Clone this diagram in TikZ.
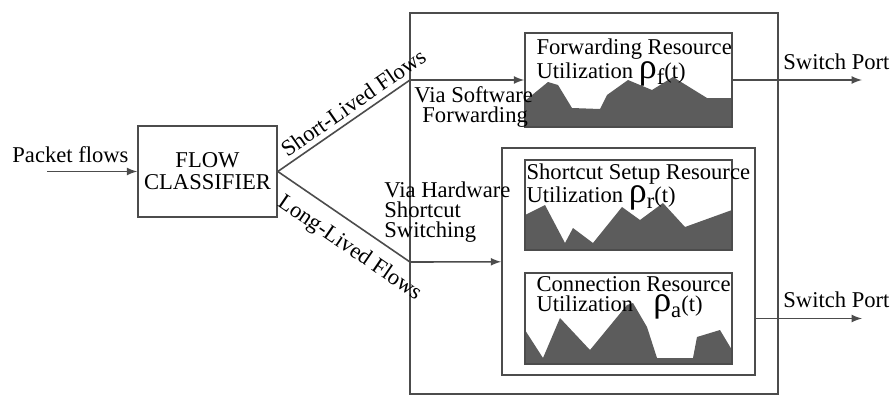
\documentclass[tikz,border=0pt]{standalone}
\usepackage{fontspec}
\setmainfont{Liberation Serif}
\usepackage{tikz}

\tikzset{
	blk/.style={draw=black!70, line width=0.8pt, inner sep=0pt},
	lbl/.style={inner sep=0pt, align=left},
	mount/.style={fill=black!64},
	flow/.style={draw=black!70, line width=0.8pt}
}
\newcommand{\rhosub}[1]{{\fontsize{18}{10}\selectfont ρ}\raisebox{-3pt}{#1}(t)}

\begin{document}
\begin{tikzpicture}[x=0.5pt, y=-0.5pt, font=\fontsize{11.3}{10}\selectfont]
	\useasboundingbox (0,0) rectangle (891,397);
	\fill[mount] (526,100) -- (548,82) -- (558,85) -- (572,108) -- (600,109) -- (607,95) -- (628,80) -- (640,85)
		-- (652,90) -- (673,77) -- (707,98) -- (732,98) -- (732,127) -- (525,127) -- cycle;
	\fill[mount] (525,215) -- (545,205) -- (565,243) -- (573,228) -- (593,243) -- (622,207) -- (640,220)
		-- (663,203) -- (685,227) -- (732,210) -- (732,250) -- (525,250) -- cycle;
	\fill[mount] (525,330) -- (543,358) -- (560,318) -- (590,350) -- (627,305) -- (633,303) -- (647,327)
		-- (657,358) -- (693,358) -- (697,337) -- (720,330) -- (732,350) -- (732,364) -- (525,364) -- cycle;
	\node (cls) at (207.5,171.5) [blk, minimum width=69.5pt, minimum height=45.5pt, align=center,
		font=\fontsize{11.3}{11}\selectfont] {FLOW\\CLASSIFIER};
	\node (sys) at (594,203.5) [blk, minimum width=184pt, minimum height=190.5pt] {};
	\node (fwd) at (628.5,80) [blk, minimum width=103.5pt, minimum height=47pt] {};
	\node (hw) at (628.5,261.5) [blk, minimum width=126.5pt, minimum height=113.5pt] {};
	\node (sc) at (628.5,205) [blk, minimum width=103.5pt, minimum height=45pt] {};
	\node (con) at (628.5,318.5) [blk, minimum width=103.5pt, minimum height=45.5pt] {};
	\coordinate (src) at (47,171.5);
	\coordinate (j1) at (410,80);
	\coordinate (j2) at (410,262);
	\coordinate (p1) at (862,80);
	\coordinate (p2) at (862,318.5);
	\node (pkt) at (12,155) [anchor=west, inner sep=0pt] {Packet flows};
	\node (sw1) at (783,62) [anchor=west, inner sep=0pt] {Switch Port};
	\node (sw2) at (783,300) [anchor=west, inner sep=0pt] {Switch Port};
	\node (viasw) at (414,107) [lbl, anchor=west] {Via Software\\\hspace{4pt}Forwarding};
	\node (viahw) at (384,212) [lbl, anchor=west] {Via Hardware\\Shortcut\\Switching};
	\node (fwdt) at ([shift={(12,6)}]fwd.north west) [lbl, anchor=north west] {Forwarding Resource\\Utilization \rhosub{f}};
	\node (sct) at ([shift={(2,4)}]sc.north west) [lbl, anchor=north west] {Shortcut Setup Resource\\Utilization \rhosub{r}};
	\node (cont) at ([shift={(12,4)}]con.north west) [lbl, anchor=north west] {Connection Resource\\Utilization\hspace{10pt}\rhosub{a}};
	\draw[flow, -latex] (src) -- (cls);
	\draw[flow] (cls.east) -- node[sloped, above, pos=0.63, inner sep=2.5pt] {Short-Lived Flows} (j1);
	\draw[flow, -latex] (j1) -- (fwd);
	\draw[flow] (cls.east) -- node[sloped, below, pos=0.64, inner sep=6pt] {Long-Lived Flows} (j2);
	\draw[flow, -latex] (j2) -- (hw);
	\draw[flow, -latex] (fwd) -- (p1);
	\draw[flow, -latex] (hw.east |- con) -- (p2);
\end{tikzpicture}
\end{document}
